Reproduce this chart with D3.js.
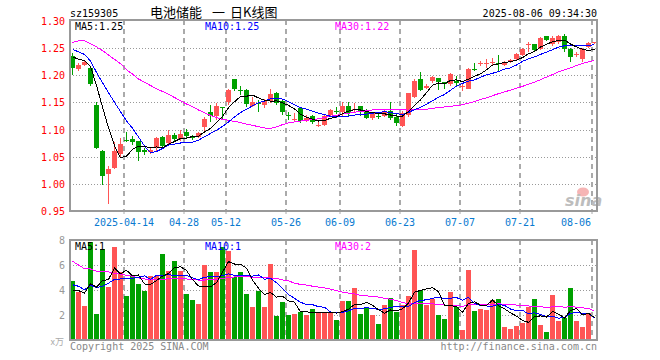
<!DOCTYPE html>
<html><head><meta charset="utf-8">
<script src="https://cdn.jsdelivr.net/npm/d3@7"></script>
<style>
body{margin:0;background:#fff}
svg{display:block}
text{font-family:"DejaVu Sans Mono","Liberation Mono",monospace;font-size:10px}
</style>
</head><body><svg id="c" width="660" height="360"></svg>
<script>
const dates = ["2025-03-31","2025-04-01","2025-04-02","2025-04-03","2025-04-07","2025-04-08","2025-04-09","2025-04-10","2025-04-11","2025-04-14","2025-04-15","2025-04-16","2025-04-17","2025-04-18","2025-04-21","2025-04-22","2025-04-23","2025-04-24","2025-04-25","2025-04-28","2025-04-29","2025-04-30","2025-05-06","2025-05-07","2025-05-08","2025-05-09","2025-05-12","2025-05-13","2025-05-14","2025-05-15","2025-05-16","2025-05-19","2025-05-20","2025-05-21","2025-05-22","2025-05-23","2025-05-26","2025-05-27","2025-05-28","2025-05-29","2025-05-30","2025-06-03","2025-06-04","2025-06-05","2025-06-06","2025-06-09","2025-06-10","2025-06-11","2025-06-12","2025-06-13","2025-06-16","2025-06-17","2025-06-18","2025-06-19","2025-06-20","2025-06-23","2025-06-24","2025-06-25","2025-06-26","2025-06-27","2025-06-30","2025-07-01","2025-07-02","2025-07-03","2025-07-04","2025-07-07","2025-07-08","2025-07-09","2025-07-10","2025-07-11","2025-07-14","2025-07-15","2025-07-16","2025-07-17","2025-07-18","2025-07-21","2025-07-22","2025-07-23","2025-07-24","2025-07-25","2025-07-28","2025-07-29","2025-07-30","2025-07-31","2025-08-01","2025-08-04","2025-08-05","2025-08-06"];

const open = [1.236,1.211,1.219,1.213,1.145,1.061,1.019,1.029,1.055,1.081,1.082,1.079,1.063,1.058,1.066,1.087,1.075,1.090,1.083,1.095,1.087,1.087,1.104,1.132,1.125,1.141,1.151,1.193,1.173,1.173,1.144,1.149,1.145,1.153,1.168,1.153,1.126,1.119,1.140,1.117,1.125,1.107,1.108,1.127,1.135,1.133,1.143,1.137,1.143,1.135,1.122,1.125,1.125,1.135,1.124,1.107,1.127,1.160,1.193,1.176,1.190,1.194,1.187,1.184,1.189,1.180,1.175,1.212,1.222,1.222,1.224,1.223,1.218,1.224,1.229,1.237,1.256,1.257,1.248,1.271,1.257,1.260,1.272,1.248,1.237,1.229,1.252,1.259];
const high = [1.240,1.223,1.227,1.215,1.151,1.062,1.033,1.077,1.085,1.095,1.089,1.080,1.067,1.066,1.087,1.089,1.099,1.093,1.100,1.102,1.090,1.095,1.123,1.145,1.148,1.141,1.174,1.193,1.181,1.174,1.159,1.154,1.157,1.175,1.169,1.155,1.133,1.130,1.142,1.127,1.126,1.114,1.127,1.137,1.142,1.151,1.151,1.148,1.144,1.138,1.133,1.130,1.136,1.150,1.131,1.134,1.168,1.193,1.206,1.183,1.198,1.195,1.188,1.204,1.199,1.185,1.213,1.223,1.226,1.229,1.231,1.237,1.226,1.230,1.241,1.250,1.260,1.258,1.270,1.271,1.272,1.273,1.275,1.249,1.242,1.250,1.260,1.261];
const low = [1.200,1.208,1.217,1.180,1.064,0.998,0.963,1.028,1.050,1.078,1.071,1.043,1.053,1.055,1.061,1.066,1.073,1.079,1.080,1.084,1.081,1.085,1.097,1.114,1.118,1.120,1.145,1.170,1.164,1.142,1.142,1.133,1.139,1.148,1.146,1.127,1.118,1.114,1.112,1.114,1.110,1.105,1.106,1.125,1.129,1.124,1.123,1.131,1.125,1.119,1.117,1.119,1.123,1.118,1.106,1.104,1.123,1.158,1.170,1.174,1.185,1.173,1.174,1.181,1.181,1.170,1.174,1.208,1.216,1.213,1.219,1.205,1.216,1.222,1.227,1.235,1.243,1.242,1.246,1.263,1.254,1.258,1.243,1.225,1.233,1.225,1.250,1.258];
const close = [1.213,1.219,1.224,1.183,1.066,1.015,1.028,1.061,1.073,1.079,1.077,1.058,1.058,1.063,1.085,1.070,1.090,1.082,1.092,1.088,1.085,1.093,1.120,1.125,1.143,1.140,1.173,1.175,1.172,1.147,1.150,1.147,1.153,1.165,1.148,1.132,1.125,1.120,1.116,1.121,1.114,1.108,1.125,1.136,1.134,1.144,1.131,1.138,1.133,1.122,1.131,1.124,1.135,1.122,1.113,1.130,1.167,1.190,1.173,1.180,1.197,1.188,1.184,1.202,1.186,1.181,1.211,1.211,1.223,1.223,1.225,1.222,1.225,1.228,1.238,1.248,1.257,1.246,1.269,1.265,1.268,1.272,1.248,1.233,1.238,1.248,1.259,1.260];
const volume = [4.69,3.81,2.74,7.81,2.10,7.30,4.21,7.46,5.41,3.49,5.14,4.50,3.89,5.14,5.14,6.90,5.49,6.29,5.49,3.70,3.22,2.90,6.02,5.41,5.41,7.44,7.09,5.04,5.41,3.70,2.66,3.89,2.61,6.10,1.89,3.01,2.02,2.10,2.21,1.97,2.50,2.21,2.24,2.21,1.62,3.09,3.14,4.16,2.10,2.56,1.97,1.30,2.82,3.36,2.21,2.82,3.54,7.22,4.02,2.82,3.28,2.02,1.70,3.86,2.64,0.82,5.62,2.34,2.50,2.42,3.17,3.30,1.06,0.90,1.14,1.38,2.61,3.30,1.22,0.66,3.62,1.54,1.76,4.18,1.54,1.01,2.16,0.10];

const priceMa5Head = [1.234,1.229,1.227,1.216];
const priceMa10Head = [1.247,1.243,1.238,1.226,1.205,1.186,1.168,1.150,1.133];
const priceMa30Head = [1.260,1.263,1.263,1.258,1.252,1.245,1.237,1.229,1.221,1.210,1.202,1.193,1.187,1.181,1.175,1.170,1.165,1.159,1.153,1.147,1.142,1.136,1.131,1.126,1.122,1.119,1.117,1.115,1.113];
const volMa5Head = [4.0,3.95,3.75,4.5];
const volMa10Head = [4.42,4.30,4.02,4.38,4.20,4.30,4.55,4.85,4.88];
const volMa30Head = [6.3,6.0,5.7,5.68,5.5,5.5,5.45,5.33,5.28,5.17,5.1,4.97,4.88,4.82,4.82,4.84,4.9,4.94,4.93,4.88,4.84,4.8,4.8,4.82,4.86,4.93,5.0,5.04,5.05];

const priceMaLabels = ["MA5:1.25","MA10:1.25","MA30:1.22"];
const volMaLabels = ["MA5:1","MA10:1","MA30:2"];
const tickDates = ["2025-04-14","2025-04-28","2025-05-12","2025-05-26","2025-06-09","2025-06-23","2025-07-07","2025-07-21","2025-08-06"];
const tickLabels = ["2025-04-14","04-28","05-12","05-26","06-09","06-23","07-07","07-21","08-06"];
const priceTicks = [1.30,1.25,1.20,1.15,1.10,1.05,1.00,0.95];
const volTicks = [8,6,4,2];

const RED = "#ff5555", GREEN = "#00a000";
const MA_COLORS = ["#000000","#0000ff","#ff00ff"];
const L = 70, R = 597, PT = 20, PB = 211, VT = 240, VB = 340;

const svg = d3.select("#c");
const xs = d3.scaleLinear().domain([0, dates.length]).range([L, L + 6 * dates.length]);
const y = d3.scaleLinear().domain([0.95, 1.30]).range([211.3, 20.7]);
const vy = d3.scaleLinear().domain([0, 8]).range([VB, VT]);

function ma(vals, n, head) {
  return vals.map((v, i) => i < n - 1 ? head[i] : d3.mean(vals.slice(i - n + 1, i + 1)));
}

// header
svg.append("text").attr("x", L).attr("y", 17).attr("fill", "#000").text("sz159305");
const title = svg.append("text").attr("y", 17).attr("fill", "#000")
  .style("font-family", "'Noto Sans CJK SC',sans-serif").style("font-size", "13px");
title.append("tspan").attr("x", 150).text("电池储能 ");
title.append("tspan").attr("x", 212).text("一 ");
title.append("tspan").attr("x", 230).text("日K线图");
svg.append("text").attr("x", R).attr("y", 17).attr("text-anchor", "end").attr("fill", "#000").text("2025-08-06 09:34:30");

// grid
const tickIdx = tickDates.map(d => dates.indexOf(d));
const grid = svg.append("g");
priceTicks.slice(1, -1).forEach(v => {
  const yy = Math.round(y(v)) + 0.5;
  grid.append("line").attr("x1", L).attr("x2", R).attr("y1", yy).attr("y2", yy)
    .attr("stroke", "#999").attr("stroke-dasharray", "1,2");
});
volTicks.slice(1).forEach(v => {
  const yy = Math.round(vy(v)) + 0.5;
  grid.append("line").attr("x1", L).attr("x2", R).attr("y1", yy).attr("y2", yy)
    .attr("stroke", "#999").attr("stroke-dasharray", "1,2");
});
tickIdx.forEach(i => {
  const xx = xs(i);
  [[PT, PB], [VT, VB]].forEach(([a, b]) => {
    grid.append("line").attr("x1", xx).attr("x2", xx).attr("y1", a).attr("y2", b)
      .attr("stroke", "#aaa").attr("stroke-width", 2).attr("stroke-dasharray", "5,4");
  });
  grid.append("line").attr("x1", xx).attr("x2", xx).attr("y1", PB).attr("y2", PB + 3)
    .attr("stroke", "#aaa").attr("stroke-width", 1);
});

// watermark
const wm = svg.append("g");
wm.append("ellipse").attr("cx", 583).attr("cy", 192).attr("rx", 6).attr("ry", 4.5).attr("fill", "#f6b5b5");
wm.append("text").attr("x", 565).attr("y", 206).attr("fill", "#bdbdbd")
  .style("font-family", "'DejaVu Sans',sans-serif").style("font-size", "16px")
  .style("font-weight", "bold").style("font-style", "italic").text("sina");

// candles
const cg = svg.append("g").attr("shape-rendering", "crispEdges");
dates.forEach((d, i) => {
  const up = close[i] >= open[i];
  const col = up ? RED : GREEN;
  const x0 = xs(i);
  const yh = Math.round(y(high[i])), yl = Math.round(y(low[i]));
  cg.append("rect").attr("x", x0 + 2).attr("width", 1).attr("y", yh).attr("height", Math.max(1, yl - yh)).attr("fill", col);
  const yt = Math.round(y(Math.max(open[i], close[i]))), yb = Math.round(y(Math.min(open[i], close[i])));
  cg.append("rect").attr("x", x0).attr("width", 5).attr("y", yt).attr("height", Math.max(1, yb - yt)).attr("fill", col);
});

// volume bars
const vg = svg.append("g").attr("shape-rendering", "crispEdges");
volume.forEach((v, i) => {
  const up = close[i] >= open[i];
  const top = Math.round(vy(v));
  vg.append("rect").attr("x", xs(i)).attr("width", 5).attr("y", top).attr("height", Math.max(1, VB - top))
    .attr("fill", up ? RED : GREEN);
});

// MA lines
svg.append("clipPath").attr("id", "cp").append("rect").attr("x", L).attr("y", PT).attr("width", R - L).attr("height", PB - PT);
svg.append("clipPath").attr("id", "cv").append("rect").attr("x", L).attr("y", VT).attr("width", R - L).attr("height", VB - VT);
const pMAs = [ma(close, 5, priceMa5Head), ma(close, 10, priceMa10Head), ma(close, 30, priceMa30Head)];
const vMAs = [ma(volume, 5, volMa5Head), ma(volume, 10, volMa10Head), ma(volume, 30, volMa30Head)];
const lineP = d3.line().x((d, i) => xs(i) + 2.5).y(d => y(d));
const lineV = d3.line().x((d, i) => xs(i) + 2.5).y(d => vy(d));
[2, 1, 0].forEach(k => {
  svg.append("path").attr("d", lineP(pMAs[k])).attr("fill", "none").attr("stroke", MA_COLORS[k])
    .attr("stroke-width", 1).attr("shape-rendering", "crispEdges").attr("clip-path", "url(#cp)");
  svg.append("path").attr("d", lineV(vMAs[k])).attr("fill", "none").attr("stroke", MA_COLORS[k])
    .attr("stroke-width", 1).attr("shape-rendering", "crispEdges").attr("clip-path", "url(#cv)");
});

// borders
[[PT, PB], [VT, VB]].forEach(([a, b]) => {
  svg.append("rect").attr("x", L).attr("y", a).attr("width", R - L).attr("height", b - a)
    .attr("fill", "none").attr("stroke", "#999").attr("stroke-width", 2);
});

// MA labels
const labX = [75, 205, 335];
priceMaLabels.forEach((t, k) => svg.append("text").attr("x", labX[k]).attr("y", 30).attr("fill", MA_COLORS[k]).text(t));
volMaLabels.forEach((t, k) => svg.append("text").attr("x", labX[k]).attr("y", 250).attr("fill", MA_COLORS[k]).text(t));

// y axes labels
priceTicks.forEach(v => {
  svg.append("text").attr("x", 65).attr("y", Math.round(y(v)) + 4).attr("text-anchor", "end")
    .attr("fill", "#ff0000").text(v.toFixed(2));
});
volTicks.forEach(v => {
  svg.append("text").attr("x", 65).attr("y", Math.round(vy(v)) + 4).attr("text-anchor", "end")
    .attr("fill", "#999").text(String(v));
});
svg.append("text").attr("x", 64).attr("y", 345).attr("text-anchor", "end").attr("fill", "#aaa")
  .style("font-family", "'Noto Sans CJK SC',sans-serif").style("font-size", "9px").text("x万");

// x labels
tickIdx.forEach((i, k) => {
  const t = svg.append("text").attr("y", 226).attr("text-anchor", "middle").attr("fill", "#0a7ad0").text(tickLabels[k]);
  const w = t.node().getComputedTextLength();
  let xx = xs(i);
  if (xx + w / 2 > 591) xx = 591 - w / 2;
  t.attr("x", xx);
});

// footer
svg.append("text").attr("x", L).attr("y", 350).attr("fill", "#888").text("Copyright 2025 SINA.COM");
svg.append("text").attr("x", R).attr("y", 350).attr("text-anchor", "end").attr("fill", "#888").text("http://finance.sina.com.cn");
</script>
</body></html>
